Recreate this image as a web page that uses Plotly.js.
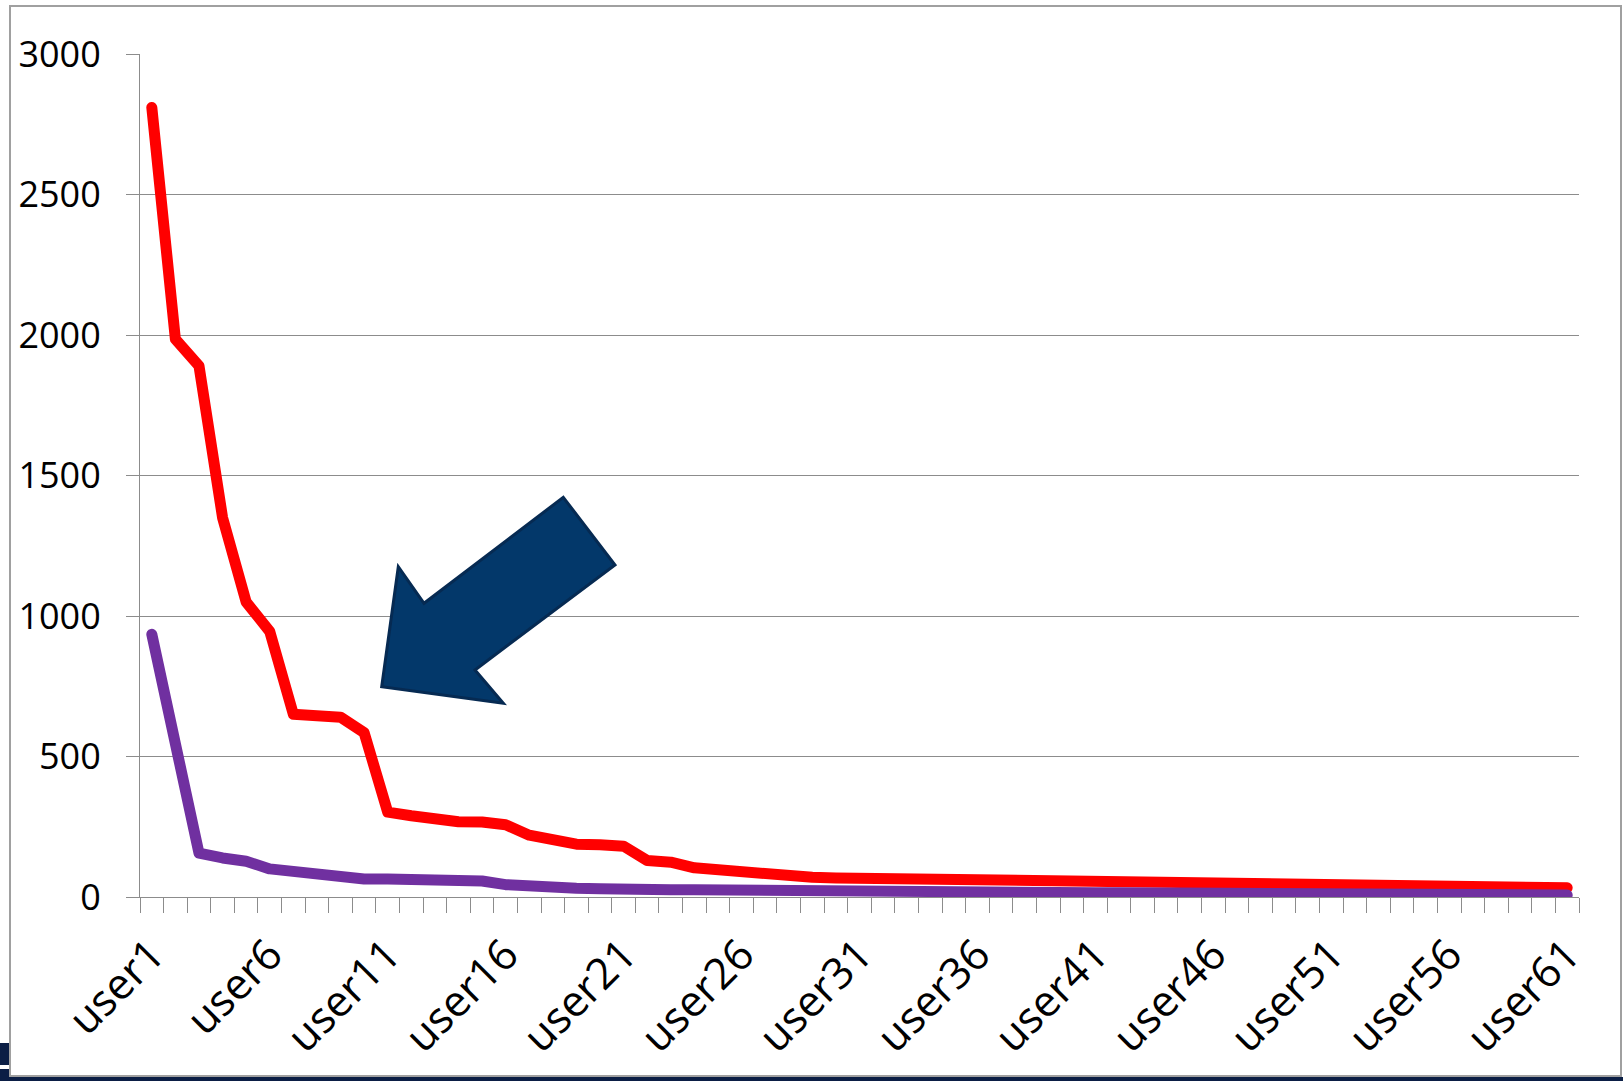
<!DOCTYPE html>
<html><head><meta charset="utf-8">
<script src="https://cdn.plot.ly/plotly-3.0.1.min.js"></script>
<style>
html,body{margin:0;padding:0;background:#fff;overflow:hidden;}
#chart{width:1623px;height:1081px;}
.js-line{stroke-linecap:round !important;stroke-linejoin:round !important;}
</style></head><body><div id="chart"></div>
<script>
const categories = ['user1','user2','user3','user4','user5','user6','user7','user8','user9','user10',
  'user11','user12','user13','user14','user15','user16','user17','user18','user19','user20',
  'user21','user22','user23','user24','user25','user26','user27','user28','user29','user30',
  'user31','user32','user33','user34','user35','user36','user37','user38','user39','user40',
  'user41','user42','user43','user44','user45','user46','user47','user48','user49','user50',
  'user51','user52','user53','user54','user55','user56','user57','user58','user59','user60','user61'];

const tickLabels = ['user1','user6','user11','user16','user21','user26','user31','user36','user41','user46','user51','user56','user61'];

const redSeries = [2810,1985,1890,1350,1050,945,650,648,640,585,
  302,289,276,268,267,257,220,203,188,186,
  181,130,124,104,97,91,80,72,70,68,
  67,66,68,66,66,62,63,64,63,57,
  58,58,51,52,53,52,47,47,48,43,
  43,43,43,42,39,39,39,39,38,36,33];

const purpleSeries = [935,550,156,139,127,100,90,82,68,64,
  64,61,59,57,57,44,37,34,31,29,
  25,25,26,26,25,21,21,21,19,19,
  19,21,21,16,15,15,15,15,15,15,
  15,15,15,12,12,12,12,12,12,12,
  12,12,12,12,12,10,7,7,7,7,7];

const yTicks = [0,500,1000,1500,2000,2500,3000];

// page geometry (pixels) for the decorative arrow and frame
const W = 1623, H = 1081, ML = 140, MR = 44, MT = 54, MB = 184;
const PW = W - ML - MR, PH = H - MT - MB;
const fx = x => (x - ML) / PW;
const fy = y => (H - MB - y) / PH;

const arrowPts = [[563.3,497.3],[615,565],[475,670],[503.3,703.3],[381.7,686.7],[398.3,566.7],[424,603.3]];
const arrowPath = 'M ' + arrowPts.map(p => fx(p[0]).toFixed(5) + ',' + fy(p[1]).toFixed(5)).join(' L ') + ' Z';

const ticktext = categories.map(c => tickLabels.includes(c) ? c : '');
const fontFam = 'Open Sans, sans-serif';
const gridCol = '#8c8c8c';

const traces = [
  {x: categories, y: redSeries, type: 'scatter', mode: 'lines', name: 'series A',
   line: {color: '#FF0000', width: 11}, hoverinfo: 'x+y'},
  {x: categories, y: purpleSeries, type: 'scatter', mode: 'lines', name: 'series B',
   line: {color: '#7030A0', width: 11}, hoverinfo: 'x+y'}
];

const layout = {
  width: W, height: H,
  margin: {l: ML, r: MR, t: MT, b: MB, pad: 0},
  paper_bgcolor: '#ffffff', plot_bgcolor: '#ffffff',
  showlegend: false,
  font: {family: fontFam, size: 36, color: '#000'},
  xaxis: {
    type: 'category', range: [-0.5, 60.5],
    tickmode: 'array', tickvals: categories, ticktext: ticktext,
    tickson: 'boundaries', ticks: 'outside', ticklen: 15, tickwidth: 1, tickcolor: gridCol,
    showline: true, linecolor: gridCol, linewidth: 1,
    showgrid: false, zeroline: false, tickangle: -45,
    ticklabelstandoff: 14,
    tickfont: {family: fontFam, size: 43, color: '#000'}
  },
  yaxis: {
    range: [0, 3000], tickmode: 'array', tickvals: yTicks,
    ticks: 'outside', ticklen: 13, tickwidth: 1, tickcolor: gridCol,
    showline: true, linecolor: gridCol, linewidth: 1,
    showgrid: true, gridcolor: gridCol, gridwidth: 1, zeroline: false,
    ticklabelstandoff: 18,
    tickfont: {family: fontFam, size: 36, color: '#000'}
  },
  shapes: [
    {type: 'rect', xref: 'paper', yref: 'paper', x0: fx(0), x1: fx(W), y0: fy(1077), y1: fy(H),
     fillcolor: '#0b1e45', line: {width: 0}, layer: 'below'},
    {type: 'rect', xref: 'paper', yref: 'paper', x0: fx(0), x1: fx(10), y0: fy(1043), y1: fy(H),
     fillcolor: '#0b1e45', line: {width: 0}, layer: 'below'},
    {type: 'rect', xref: 'paper', yref: 'paper', x0: fx(0), x1: fx(10), y0: fy(1065), y1: fy(1069),
     fillcolor: '#ffffff', line: {width: 0}, layer: 'below'},
    {type: 'rect', xref: 'paper', yref: 'paper', x0: fx(10), x1: fx(1621), y0: fy(6), y1: fy(1076),
     fillcolor: 'rgba(0,0,0,0)', line: {color: '#a0a0a0', width: 2}, layer: 'below'},
    {type: 'path', xref: 'paper', yref: 'paper', path: arrowPath,
     fillcolor: '#03386a', line: {color: '#062a52', width: 3}, layer: 'above'}
  ]
};

Plotly.newPlot('chart', traces, layout, {displayModeBar: false, staticPlot: true});
</script></body></html>
